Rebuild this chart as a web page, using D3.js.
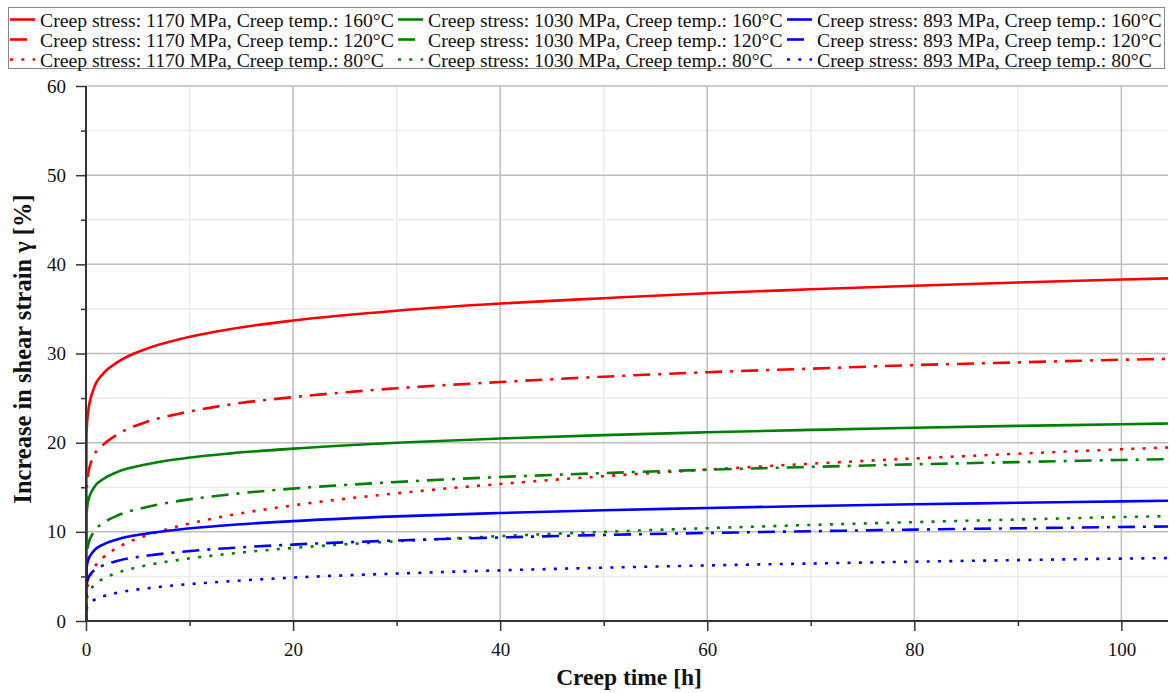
<!DOCTYPE html>
<html>
<head>
<meta charset="utf-8">
<script src="https://cdn.jsdelivr.net/npm/d3@7"></script>
<style>
  html, body { margin: 0; padding: 0; background: #fff; }
  svg { display: block; }
  text { font-family: "Liberation Serif", "Times New Roman", serif; fill: #111; }
</style>
</head>
<body>
<svg id="chart" width="1169" height="693"></svg>
<script>
// Creep time samples [h]
const creepTime = [0, 0.05, 0.2, 0.7, 1.7, 3, 6, 9, 14, 20, 30, 40, 50, 60, 70, 80, 90, 100, 104.5];

// Increase in shear strain [%] per test condition
const s1170_160 = [0, 20.9, 23.4, 25.9, 27.8, 29.0, 30.6, 31.6, 32.75, 33.7, 34.8, 35.6, 36.2, 36.76, 37.2, 37.6, 37.97, 38.3, 38.43];
const s1170_120 = [0, 14.3, 16.4, 18.4, 19.8, 20.9, 22.4, 23.25, 24.3, 25.1, 26.1, 26.8, 27.4, 27.9, 28.3, 28.7, 29.0, 29.3, 29.4];
const s1170_80  = [0, 2.97, 4.18, 5.75, 7.15, 8.2, 9.65, 10.65, 11.88, 12.97, 14.32, 15.37, 16.24, 16.98, 17.64, 18.23, 18.76, 19.26, 19.46];
const s1030_160 = [0, 11.9, 13.4, 14.85, 15.95, 16.7, 17.6, 18.17, 18.8, 19.33, 19.99, 20.47, 20.85, 21.16, 21.43, 21.67, 21.88, 22.06, 22.15];
const s1030_120 = [0, 7.17, 8.48, 9.9, 11.0, 11.8, 12.82, 13.47, 14.21, 14.85, 15.59, 16.15, 16.59, 16.96, 17.28, 17.57, 17.82, 18.06, 18.15];
const s1030_80  = [0, 2.19, 2.98, 3.92, 4.76, 5.39, 6.28, 6.86, 7.56, 8.19, 8.94, 9.52, 10.0, 10.41, 10.77, 11.09, 11.38, 11.66, 11.76];
const s893_160  = [0, 5.8, 6.8, 7.8, 8.6, 9.15, 9.83, 10.27, 10.77, 11.2, 11.73, 12.11, 12.42, 12.67, 12.9, 13.09, 13.26, 13.42, 13.49];
const s893_120  = [0, 3.96, 4.74, 5.6, 6.26, 6.73, 7.34, 7.74, 8.19, 8.57, 9.03, 9.37, 9.65, 9.87, 10.07, 10.25, 10.4, 10.54, 10.6];
const s893_80   = [0, 1.26, 1.72, 2.29, 2.79, 3.16, 3.68, 4.04, 4.47, 4.87, 5.32, 5.68, 5.98, 6.23, 6.45, 6.65, 6.83, 7.0, 7.06];

const stressLevels = ["1170", "1030", "893"];
const tempLevels = ["160", "120", "80"];
const stressColors = ["#ff0000", "#008000", "#0000ff"];
const tempDashes = [null, "17,8,3,8", "3,8.3"];
const seriesValues = [
  [s1170_160, s1170_120, s1170_80],
  [s1030_160, s1030_120, s1030_80],
  [s893_160, s893_120, s893_80]
];

const xMajorTicks = [0, 20, 40, 60, 80, 100];
const xMinorTicks = [10, 30, 50, 70, 90];
const yMajorTicks = [0, 10, 20, 30, 40, 50, 60];
const yMinorTicks = [5, 15, 25, 35, 45, 55];

const svg = d3.select("#chart");
const W = 1169, H = 693;
const plot = { left: 86, right: 1168, top: 86, bottom: 621 };

svg.append("rect").attr("width", W).attr("height", H).attr("fill", "#fff");

const x = d3.scaleLinear().domain([0, 104.5]).range([plot.left, plot.right]);
const y = d3.scaleLinear().domain([0, 60]).range([plot.bottom, plot.top]);

// grid: light minor lines first, darker major lines on top
const grid = svg.append("g");
grid.selectAll(".gxm").data(xMinorTicks).join("line")
  .attr("x1", d => x(d)).attr("x2", d => x(d))
  .attr("y1", plot.top).attr("y2", plot.bottom)
  .attr("stroke", "#ebebeb").attr("stroke-width", 1.5);
grid.selectAll(".gym").data(yMinorTicks).join("line")
  .attr("x1", plot.left).attr("x2", plot.right)
  .attr("y1", d => y(d)).attr("y2", d => y(d))
  .attr("stroke", "#ebebeb").attr("stroke-width", 1.5);
grid.selectAll(".gx").data(xMajorTicks.filter(d => d > 0)).join("line")
  .attr("x1", d => x(d)).attr("x2", d => x(d))
  .attr("y1", plot.top).attr("y2", plot.bottom)
  .attr("stroke", "#bdbdbd").attr("stroke-width", 1.5);
grid.selectAll(".gy").data(yMajorTicks.filter(d => d > 0)).join("line")
  .attr("x1", plot.left).attr("x2", plot.right)
  .attr("y1", d => y(d)).attr("y2", d => y(d))
  .attr("stroke", "#bdbdbd").attr("stroke-width", 1.5);

// creep curves
svg.append("clipPath").attr("id", "plotClip").append("rect")
  .attr("x", plot.left).attr("y", plot.top - 2)
  .attr("width", plot.right - plot.left).attr("height", plot.bottom - plot.top + 2);

const line = d3.line()
  .x((d, i) => x(creepTime[i]))
  .y(d => y(d))
  .curve(d3.curveMonotoneX);

const curves = svg.append("g").attr("clip-path", "url(#plotClip)");
seriesValues.forEach((group, si) => {
  group.forEach((vals, ti) => {
    const p = curves.append("path")
      .attr("d", line(vals))
      .attr("fill", "none")
      .attr("stroke", stressColors[si])
      .attr("stroke-width", 2.6);
    if (tempDashes[ti]) p.attr("stroke-dasharray", tempDashes[ti]);
  });
});

// axes
const axisColor = "#333";
const xAxis = svg.append("g").attr("transform", `translate(0,${plot.bottom})`)
  .call(d3.axisBottom(x).tickValues(xMajorTicks).tickSize(10).tickPadding(12).tickFormat(d3.format("d")));
const yAxis = svg.append("g").attr("transform", `translate(${plot.left},0)`)
  .call(d3.axisLeft(y).tickValues(yMajorTicks).tickSize(10).tickPadding(10).tickFormat(d3.format("d")));
[xAxis, yAxis].forEach(a => {
  a.select(".domain").remove();
  a.selectAll(".tick line").attr("stroke", axisColor).attr("stroke-width", 1.5);
  a.selectAll(".tick text").attr("font-size", 19).attr("fill", "#111")
    .attr("font-family", "Liberation Serif, serif");
});
svg.append("g").attr("transform", `translate(0,${plot.bottom})`)
  .call(d3.axisBottom(x).tickValues(xMinorTicks).tickSize(5).tickFormat(""))
  .call(g => { g.select(".domain").remove(); g.selectAll("line").attr("stroke", axisColor).attr("stroke-width", 1.5); });
svg.append("g").attr("transform", `translate(${plot.left},0)`)
  .call(d3.axisLeft(y).tickValues(yMinorTicks).tickSize(5).tickFormat(""))
  .call(g => { g.select(".domain").remove(); g.selectAll("line").attr("stroke", axisColor).attr("stroke-width", 1.5); });

svg.append("line").attr("x1", plot.left).attr("x2", plot.right)
  .attr("y1", plot.bottom).attr("y2", plot.bottom)
  .attr("stroke", axisColor).attr("stroke-width", 2);
svg.append("line").attr("x1", plot.left).attr("x2", plot.left)
  .attr("y1", plot.top).attr("y2", plot.bottom + 1)
  .attr("stroke", axisColor).attr("stroke-width", 2);

// axis titles
svg.append("text")
  .attr("x", 629).attr("y", 685)
  .attr("text-anchor", "middle")
  .attr("font-size", 23.5).attr("font-weight", "bold")
  .text("Creep time [h]");
svg.append("text")
  .attr("transform", "translate(31,349) rotate(-90)")
  .attr("text-anchor", "middle")
  .attr("font-size", 24.5).attr("font-weight", "bold")
  .text("Increase in shear strain γ [%]");

// legend: one column per stress level, one row per temperature
const legend = svg.append("g");
legend.append("rect")
  .attr("x", 8.5).attr("y", 7.5).attr("width", 1156).attr("height", 61)
  .attr("fill", "#fff").attr("stroke", "#888").attr("stroke-width", 1);
const colX = [10, 398, 787];
const rowY = [19.5, 39.5, 59.5];
stressLevels.forEach((s, si) => {
  tempLevels.forEach((t, ti) => {
    const gx = colX[si], gy = rowY[ti];
    const l = legend.append("line")
      .attr("x1", gx).attr("x2", gx + 25)
      .attr("y1", gy).attr("y2", gy)
      .attr("stroke", stressColors[si]).attr("stroke-width", 2.6);
    if (tempDashes[ti]) l.attr("stroke-dasharray", tempDashes[ti]);
    legend.append("text")
      .attr("x", gx + 30).attr("y", gy + 7)
      .attr("font-size", 19.7)
      .text(`Creep stress: ${s} MPa, Creep temp.: ${t}°C`);
  });
});
</script>
</body>
</html>
